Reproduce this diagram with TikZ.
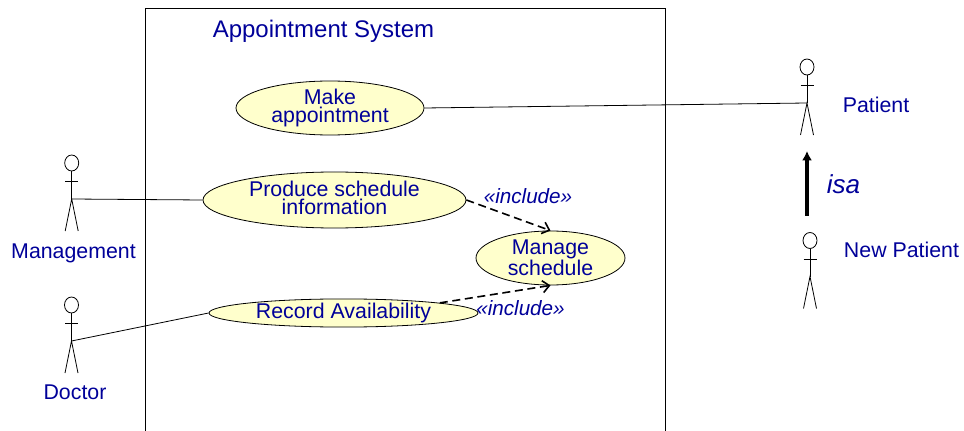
\documentclass[tikz,border=0pt]{standalone}
\usepackage{fontspec}
\setmainfont{Liberation Sans}
\usepackage{xcolor}
\usetikzlibrary{shapes.geometric,arrows.meta}
\definecolor{labelblue}{RGB}{0,0,153}
\definecolor{casefill}{RGB}{255,255,204}
\tikzset{
  label text/.style={text=labelblue,inner sep=0pt,align=center,font=\fontsize{16}{13.5}\selectfont},
  usecase/.style 2 args={draw,ellipse,fill=casefill,inner sep=0pt,minimum width=#1*0.75pt,minimum height=#2*0.75pt,label text},
  depends/.style={dashed,dash pattern=on 6pt off 3.5pt,line width=1.2pt,-{Straight Barb[length=5pt,width=9pt]}},
}
\newcommand{\actor}[2]{
  \coordinate (#1) at (#2);
  \draw (#1) ++(0,-36) ellipse [x radius=7,y radius=8];
  \draw (#1) ++(0,-28)--(#1);
  \draw (#1) ++(-6.5,-17.5)--++(13,0);
  \draw (#1) ++(-6.5,32)--(#1)--++(6.5,32);
}
\begin{document}
\begin{tikzpicture}[x=0.75pt,y=-0.75pt,line width=0.6pt]
        \useasboundingbox (0,0) rectangle (964,431);
        \draw (145,431)--(145,8.5)--(665,8.5)--(665,431);
        \node[label text,font=\fontsize{18}{20}\selectfont] (system) at (323.5,31) {Appointment System};
        % use cases
        \node[usecase={188}{54}] (makeappt) at (330,108) {Make\\appointment};
        \node[usecase={263}{56}] (produce) at (334.5,200) {};
        \node[label text] (producetext) at (334.5,198) {Produce schedule\\[0.5pt]information};
        \node[usecase={149}{54}] (manage) at (550.5,258) {Manage\\schedule};
        \node[usecase={269}{28}] (record) at (343.5,313) {Record Availability};
        % actors
        \actor{patient}{807,103}
        \actor{newpatient}{810,276.5}
        \actor{management}{71.7,199}
        \actor{doctor}{71.5,341}
        \node[label text] (patientname) at (876,104.5) {Patient};
        \node[label text] (newpatientname) at (901.5,250) {New Patient};
        \node[label text] (managementname) at (73.5,253) {Management};
        \node[label text] (doctorname) at (75,392.5) {Doctor};
        % connectors
        \draw (patient)--(makeappt.east);
        \draw (management)--(produce.west);
        \draw (doctor)--(record.west);
        \draw[depends] (produce.east)--(manage.north);
        \draw[depends] (record.6)--(manage.south);
        \node[label text,font=\fontsize{15.5}{16}\selectfont\itshape] (includeup) at (528,196) {«include»};
        \node[label text,font=\fontsize{15.5}{16}\selectfont\itshape] (includedown) at (520.5,308) {«include»};
        % generalisation
        \coordinate (isastart) at (807,216);
        \coordinate (isaend) at (807,151);
        \draw[line width=2.6pt,-{Latex[length=7pt,width=7.5pt]}] (isastart)--(isaend);
        \node[label text,font=\fontsize{19.5}{20}\selectfont\itshape] (isa) at (843.5,184) {isa};
\end{tikzpicture}
\end{document}
